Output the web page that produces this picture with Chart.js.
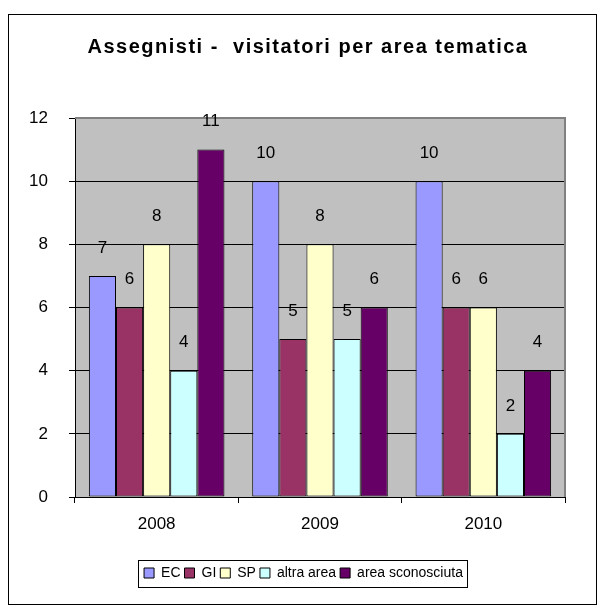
<!DOCTYPE html>
<html>
<head>
<meta charset="utf-8">
<script src="https://cdn.jsdelivr.net/npm/chart.js@4.4.0/dist/chart.umd.min.js"></script>
<style>
  html, body { margin: 0; padding: 0; background: #fff; }
</style>
</head>
<body>
<canvas id="grafico" width="603" height="614"></canvas>
<script>
// dati
const anni = ['2008', '2009', '2010'];
const serieEC = [7, 10, 10];
const serieGI = [6, 5, 6];
const serieSP = [8, 8, 6];
const serieAltra = [4, 5, 2];
const serieSconosciuta = [11, 6, 4];
const nomiSerie = ['EC', 'GI', 'SP', 'altra area', 'area sconosciuta'];
const coloriSerie = ['#9999FF', '#993366', '#FFFFCC', '#CCFFFF', '#660066'];
const tickY = [0, 2, 4, 6, 8, 10, 12];

const FONT = 'Liberation Sans, Arial, sans-serif';
const SPOSTA_LEGENDA = 16; // la legenda originale sta un po' più a destra

// sfondo grigio dell'area del grafico
const sfondo = {
    id: 'sfondo',
    beforeDraw(chart) {
        const ctx = chart.ctx;
        const a = chart.chartArea;
        ctx.save();
        ctx.fillStyle = '#fff';
        ctx.fillRect(0, 0, chart.width, chart.height);
        ctx.fillStyle = '#C0C0C0';
        ctx.fillRect(a.left, a.top, a.right - a.left, a.bottom - a.top);
        ctx.restore();
    },
    beforeDatasetsDraw(chart) {
        const ctx = chart.ctx;
        const a = chart.chartArea;
        ctx.save();
        ctx.strokeStyle = '#808080';
        ctx.lineWidth = 2;
        ctx.beginPath();
        ctx.moveTo(a.left, a.top);
        ctx.lineTo(a.right, a.top);
        ctx.lineTo(a.right, a.bottom);
        ctx.stroke();
        ctx.restore();
    }
};

// etichette dei valori sopra le barre
const etichette = {
    id: 'etichette',
    afterDatasetsDraw(chart) {
        const ctx = chart.ctx;
        ctx.save();
        ctx.font = '17px ' + FONT;
        ctx.fillStyle = '#000';
        ctx.textAlign = 'center';
        ctx.textBaseline = 'middle';
        chart.data.datasets.forEach((ds, i) => {
            chart.getDatasetMeta(i).data.forEach((bar, j) => {
                ctx.fillText(String(ds.data[j]), bar.x, bar.y - 28);
            });
        });
        ctx.restore();
    }
};

// riquadro della legenda e bordo esterno
const cornici = {
    id: 'cornici',
    afterDraw(chart) {
        const ctx = chart.ctx;
        const boxes = chart.legend.legendHitBoxes;
        ctx.save();
        ctx.strokeStyle = '#000';
        ctx.lineWidth = 1;
        if (boxes && boxes.length) {
            let l = Infinity, r = -Infinity, t = Infinity, b = -Infinity;
            boxes.forEach(h => {
                l = Math.min(l, h.left); r = Math.max(r, h.left + h.width);
                t = Math.min(t, h.top); b = Math.max(b, h.top + h.height);
            });
            ctx.strokeRect(Math.round(l - 6 + SPOSTA_LEGENDA) + 0.5, Math.round(t - 6) + 0.5,
                Math.round(r - l + 10), Math.round(b - t + 13));
        }
        ctx.strokeRect(8.5, 14.5, 588, 590);
        ctx.restore();
    }
};

const datasets = [serieEC, serieGI, serieSP, serieAltra, serieSconosciuta].map((valori, i) => ({
    label: nomiSerie[i],
    data: valori,
    backgroundColor: coloriSerie[i],
    borderColor: '#000',
    borderWidth: 1,
    borderSkipped: false,
    categoryPercentage: 0.83,
    barPercentage: 1.0
}));

const grafico = new Chart(document.getElementById('grafico'), {
    type: 'bar',
    data: { labels: anni, datasets: datasets },
    options: {
        responsive: false,
        animation: false,
        layout: { padding: { left: 10, right: 38, top: 0, bottom: 24 } },
        plugins: {
            title: {
                display: true,
                text: 'Assegnisti -  visitatori per area tematica',
                color: '#000',
                font: { family: FONT, size: 20, weight: 'bold' },
                padding: { top: 35, bottom: 59 }
            },
            legend: {
                position: 'bottom',
                labels: {
                    color: '#000',
                    font: { family: FONT, size: 14 },
                    boxWidth: 10,
                    boxHeight: 10,
                    padding: 4
                }
            },
            tooltip: { enabled: false }
        },
        scales: {
            x: {
                grid: { offset: true, drawOnChartArea: false, drawTicks: true, tickLength: 6, color: '#000' },
                border: { color: '#000' },
                ticks: { color: '#000', font: { family: FONT, size: 17 }, padding: 11 },
                afterFit(scale) { scale.height = 65; }
            },
            y: {
                min: 0,
                max: 12,
                afterBuildTicks(scale) { scale.ticks = tickY.map(v => ({ value: v })); },
                grid: { color: '#000', tickLength: 6 },
                border: { color: '#000' },
                ticks: { color: '#000', font: { family: FONT, size: 17 }, padding: 21 },
                afterFit(scale) { scale.width = 65; }
            }
        }
    },
    plugins: [sfondo, etichette, cornici]
});

// titolo con lettere spaziate e centrato sul riquadro esterno, come nell'originale
const blocco = grafico.titleBlock;
const disegnaTitolo = blocco.draw.bind(blocco);
blocco.draw = function () {
    const ctx = grafico.ctx;
    ctx.save();
    ctx.letterSpacing = '1.5px';
    ctx.translate(308 - (blocco.left + blocco.right) / 2, 0);
    disegnaTitolo();
    ctx.restore();
};

// legenda spostata a destra
const legenda = grafico.legend;
const disegnaLegenda = legenda.draw.bind(legenda);
legenda.draw = function () {
    const ctx = grafico.ctx;
    ctx.save();
    ctx.translate(SPOSTA_LEGENDA, 0);
    disegnaLegenda();
    ctx.restore();
};
grafico.draw();
</script>
</body>
</html>
